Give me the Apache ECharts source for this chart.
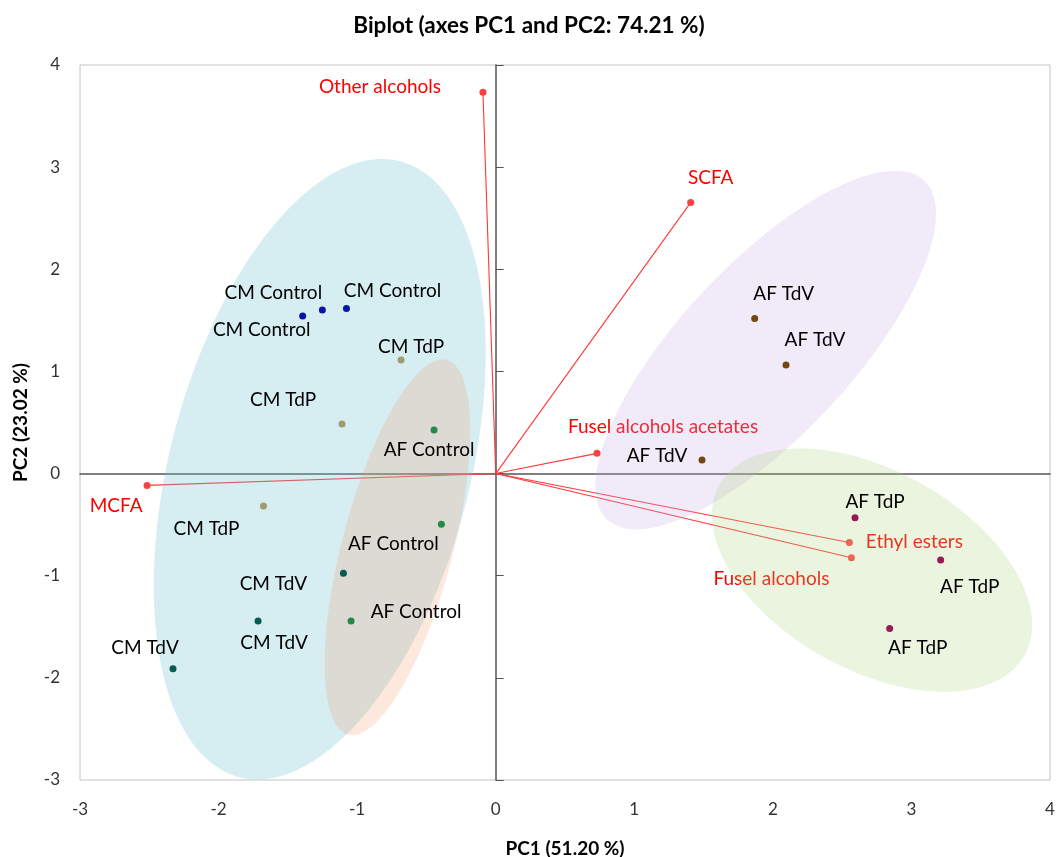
<!DOCTYPE html>
<html>
<head>
<meta charset="utf-8">
<script src="https://cdn.jsdelivr.net/npm/echarts@6/dist/echarts.min.js"></script>
<style>
  html, body { margin: 0; padding: 0; background: #ffffff; }
  #chart { width: 1058px; height: 857px; }
</style>
</head>
<body>
<div id="chart"></div>
<script>
// Observations (PCA scores on F1 / F2)
const obsNames = ['CM Control', 'CM Control', 'CM Control',
                  'CM TdP', 'CM TdP', 'CM TdP',
                  'CM TdV', 'CM TdV', 'CM TdV',
                  'AF Control', 'AF Control', 'AF Control',
                  'AF TdV', 'AF TdV', 'AF TdV',
                  'AF TdP', 'AF TdP', 'AF TdP'];
const obsPC1 = [-1.393, -1.251, -1.077,
                -0.683, -1.109, -1.676,
                -1.099, -1.715, -2.329,
                -0.445, -0.392, -1.044,
                 1.869,  2.095,  1.489,
                 2.593,  3.211,  2.843];
const obsPC2 = [ 1.542,  1.601,  1.617,
                 1.111,  0.485, -0.318,
                -0.977, -1.444, -1.911,
                 0.426, -0.497, -1.444,
                 1.519,  1.062,  0.132,
                -0.433, -0.847, -1.516];

// Variables (loadings)
const varNames = ['Other alcohols', 'SCFA', 'Fusel alcohols acetates', 'MCFA', 'Ethyl esters', 'Fusel alcohols'];
const varPC1 = [-0.092, 1.407, 0.731, -2.516, 2.552, 2.567];
const varPC2 = [ 3.732, 2.655, 0.198, -0.116, -0.674, -0.824];

// Confidence ellipses per group: centre, spread along PC1 / PC2, correlation
const ellNames = ['CM', 'AF Control', 'AF TdV', 'AF TdP'];
const ellPC1 = [-1.270, -0.709, 1.948, 2.716];
const ellPC2 = [ 0.042, -0.722, 1.209, -0.945];
const ellSd1 = [ 1.198,  0.525, 1.229, 1.155];
const ellSd2 = [ 3.037,  1.839, 1.755, 1.191];
const ellRho = [ 0.375,  0.62,  0.76, -0.45];

// Axis ticks
const tickMin = -3, tickMaxX = 4, tickMaxY = 4, tickStep = 1;

// ---- styling / label placement ----
const FONT = 'Lato';
const groupColors = {
  'CM Control': '#0716A8',
  'CM TdP': '#A19B70',
  'CM TdV': '#08594F',
  'AF Control': '#238B47',
  'AF TdV': '#764612',
  'AF TdP': '#961A58'
};
const obsLabelOffset = [[-41, 14], [-49, -17], [46, -18],
                        [10, -13], [-59, -24], [-57, 23],
                        [-70, 11], [16, 22], [-28, -21],
                        [-5, 20], [-48, 20], [65, -9],
                        [29, -25], [29, -25], [-45, -4],
                        [20, -16], [29, 27], [28, 19]];
const varLabelOffset = [[-103, -5], [20, -25], [66, -26], [-31, 20], [65, -1], [-80, 21]];
const ellColors = ['rgba(120,200,210,0.30)', 'rgba(240,150,100,0.22)',
                   'rgba(196,172,232,0.25)', 'rgba(176,212,128,0.25)'];

const series = [];

// loading vectors from the origin
varNames.forEach((n, i) => {
  series.push({
    type: 'line', xAxisIndex: 0, yAxisIndex: 0, z: 1,
    data: [[0, 0], [varPC1[i], varPC2[i]]],
    symbol: 'none', silent: true, animation: false,
    lineStyle: { color: '#FF3838', width: 1.1 }
  });
});

// loading end points + labels
series.push({
  type: 'scatter', xAxisIndex: 0, yAxisIndex: 0, z: 2, animation: false,
  symbolSize: 7,
  itemStyle: { color: '#FF4040', opacity: 1 },
  data: varNames.map((n, i) => ({
    name: n, value: [varPC1[i], varPC2[i]],
    label: { offset: varLabelOffset[i] }
  })),
  label: {
    show: true, position: 'inside', formatter: '{b}',
    color: '#FF0000', fontFamily: FONT, fontSize: 19
  }
});

// confidence ellipses
series.push({
  type: 'custom', xAxisIndex: 0, yAxisIndex: 0, z: 3, animation: false, silent: true,
  data: ellNames.map((n, i) => [i]),
  renderItem: function (params, api) {
    const i = api.value(0);
    const pts = [];
    const k = Math.sqrt(1 - ellRho[i] * ellRho[i]);
    for (let s = 0; s < 180; s++) {
      const t = s / 180 * Math.PI * 2;
      const x = ellPC1[i] + ellSd1[i] * Math.cos(t);
      const y = ellPC2[i] + ellSd2[i] * (ellRho[i] * Math.cos(t) + k * Math.sin(t));
      pts.push(api.coord([x, y]));
    }
    return { type: 'polygon', shape: { points: pts }, style: { fill: ellColors[i] } };
  }
});

// observations, one series per group
Object.keys(groupColors).forEach(g => {
  const data = [];
  obsNames.forEach((n, i) => {
    if (n === g) data.push({ name: n, value: [obsPC1[i], obsPC2[i]], label: { offset: obsLabelOffset[i] } });
  });
  series.push({
    type: 'scatter', name: g, xAxisIndex: 0, yAxisIndex: 0, z: 4, animation: false,
    symbolSize: 7,
    itemStyle: { color: groupColors[g], opacity: 1 },
    data: data,
    label: {
      show: true, position: 'inside', formatter: '{b}',
      color: '#000000', fontFamily: FONT, fontSize: 19
    }
  });
});

const chart = echarts.init(document.getElementById('chart'), null, { renderer: 'canvas' });
chart.setOption({
  backgroundColor: '#ffffff',
  animation: false,
  title: {
    text: 'Biplot (axes PC1 and PC2: 74.21 %)',
    left: 'center', top: 9,
    textStyle: { fontFamily: FONT, fontSize: 22.5, fontWeight: 'bold', color: '#000000' }
  },
  grid: {
    left: 80, right: 8, top: 65, bottom: 77,
    outerBoundsMode: 'none', containLabel: false,
    show: true, borderColor: '#C4C4C4', borderWidth: 1, backgroundColor: 'transparent'
  },
  xAxis: [
    {
      type: 'value', min: tickMin, max: tickMaxX, interval: tickStep, position: 'bottom',
      axisLine: { show: false, onZero: false },
      axisTick: { show: false }, splitLine: { show: false },
      axisLabel: { fontFamily: FONT, fontSize: 17, color: '#333333', margin: 21 },
      name: 'PC1 (51.20 %)', nameLocation: 'middle', nameGap: 59,
      nameTextStyle: { fontFamily: FONT, fontSize: 19, fontWeight: 'bold', color: '#000000' }
    },
    {
      type: 'value', min: tickMin, max: tickMaxX, interval: tickStep, position: 'bottom',
      axisLine: { show: true, onZero: true, onZeroAxisIndex: 0, lineStyle: { color: '#555555', width: 1.5 } },
      axisTick: { show: false },
      axisLabel: { show: false }, splitLine: { show: false }
    }
  ],
  yAxis: [
    {
      type: 'value', min: tickMin, max: tickMaxY, interval: tickStep, position: 'left',
      axisLine: { show: false, onZero: false },
      axisTick: { show: false }, splitLine: { show: false },
      axisLabel: { fontFamily: FONT, fontSize: 17, color: '#333333', margin: 20 },
      name: 'PC2 (23.02 %)', nameLocation: 'middle', nameGap: 50, nameRotate: 90,
      nameTextStyle: { fontFamily: FONT, fontSize: 19, fontWeight: 'bold', color: '#000000' }
    },
    {
      type: 'value', min: tickMin, max: tickMaxY, interval: tickStep, position: 'left',
      axisLine: { show: true, onZero: true, onZeroAxisIndex: 0, lineStyle: { color: '#555555', width: 1.5 } },
      axisTick: { show: true, inside: true, length: 8, lineStyle: { color: '#555555', width: 1 } },
      axisLabel: { show: false }, splitLine: { show: false }
    }
  ],
  series: series
});
</script>
</body>
</html>
